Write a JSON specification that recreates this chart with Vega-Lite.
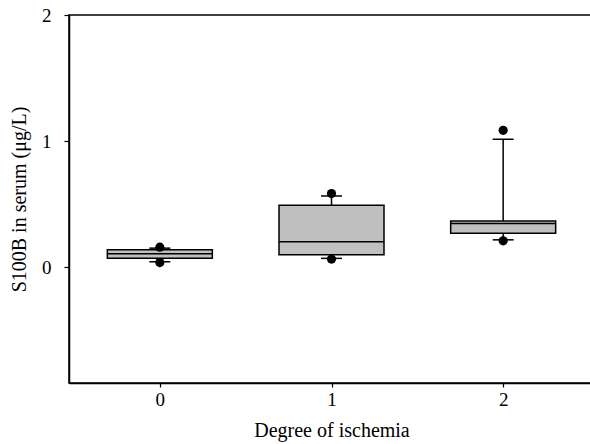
{
  "$schema": "https://vega.github.io/schema/vega-lite/v6.json",
  "autosize": "none",
  "padding": {"left": 69, "top": 15, "right": 0, "bottom": 61},
  "width": 525,
  "height": 368,
  "background": "white",
  "config": {
    "view": {"stroke": "black", "strokeWidth": 1.5},
    "font": "Liberation Serif",
    "axis": {"domainColor": "black", "domainWidth": 1.5, "tickColor": "black", "tickWidth": 1.2, "labelColor": "black", "titleColor": "black", "labelFont": "Liberation Serif", "titleFont": "Liberation Serif", "labelFontSize": 19, "titleFontSize": 20, "titleFontWeight": "normal", "grid": false}
  },
  "data": {"values": [
    {"group": 0, "q1": 0.069, "median": 0.105, "q3": 0.137, "lo": 0.042, "hi": 0.150, "plo": 0.036, "phi": 0.158},
    {"group": 1, "q1": 0.097, "median": 0.200, "q3": 0.490, "lo": 0.069, "hi": 0.564, "plo": 0.063, "phi": 0.583},
    {"group": 2, "q1": 0.269, "median": 0.345, "q3": 0.366, "lo": 0.216, "hi": 1.014, "plo": 0.208, "phi": 1.085}
  ]},
  "encoding": {
    "x": {"field": "group", "type": "quantitative", "scale": {"domain": [-0.5, 2.5], "nice": false, "zero": false},
      "axis": {"values": [0, 1, 2], "format": "d", "title": "Degree of ischemia", "tickSize": 4, "labelPadding": 3, "titlePadding": 11, "orient": "bottom"}}
  },
  "layer": [
    {
      "mark": {"type": "rule", "color": "black", "strokeWidth": 1.5},
      "encoding": {
        "y": {"field": "q3", "type": "quantitative", "scale": {"domain": [-0.92, 2], "nice": false, "zero": false},
          "axis": {"values": [0, 1, 2], "format": "d", "title": "S100B in serum (μg/L)", "tickSize": 5, "labelPadding": 13, "titlePadding": 12}},
        "y2": {"field": "hi"}
      }
    },
    {
      "mark": {"type": "rule", "color": "black", "strokeWidth": 1.5},
      "encoding": {
        "y": {"field": "q1", "type": "quantitative"},
        "y2": {"field": "lo"}
      }
    },
    {
      "mark": {"type": "bar", "size": 105, "fill": "#c0c0c0", "stroke": "black", "strokeWidth": 1.5, "orient": "vertical"},
      "encoding": {
        "y": {"field": "q1", "type": "quantitative"},
        "y2": {"field": "q3"}
      }
    },
    {
      "mark": {"type": "tick", "orient": "horizontal", "size": 105, "thickness": 1.5, "color": "black", "opacity": 1},
      "encoding": {"y": {"field": "median", "type": "quantitative"}}
    },
    {
      "mark": {"type": "tick", "orient": "horizontal", "size": 21, "thickness": 1.5, "color": "black", "opacity": 1},
      "encoding": {"y": {"field": "hi", "type": "quantitative"}}
    },
    {
      "mark": {"type": "tick", "orient": "horizontal", "size": 21, "thickness": 1.5, "color": "black", "opacity": 1},
      "encoding": {"y": {"field": "lo", "type": "quantitative"}}
    },
    {
      "mark": {"type": "circle", "size": 85, "color": "black", "opacity": 1},
      "encoding": {"y": {"field": "phi", "type": "quantitative"}}
    },
    {
      "mark": {"type": "circle", "size": 85, "color": "black", "opacity": 1},
      "encoding": {"y": {"field": "plo", "type": "quantitative"}}
    }
  ]
}
